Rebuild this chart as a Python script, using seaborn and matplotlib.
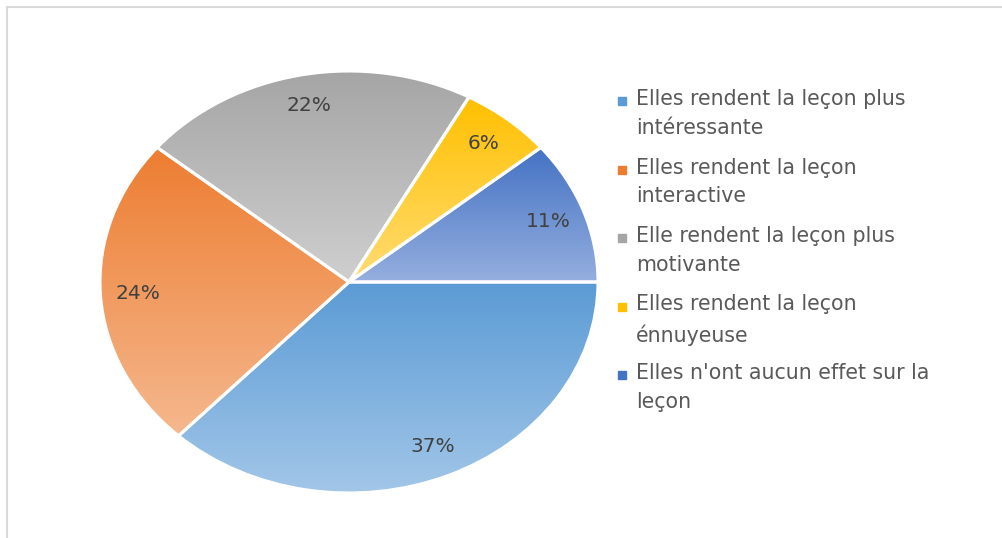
import numpy as np
import seaborn as sns
import matplotlib.pyplot as plt
from matplotlib.patches import Rectangle
from matplotlib.colors import LinearSegmentedColormap

sns.set_theme(style="white")
plt.rcParams["font.family"] = ["DejaVu Sans"]

# data
labels = [
    "Elles rendent la leçon plus\nintéressante",
    "Elles rendent la leçon\ninteractive",
    "Elle rendent la leçon plus\nmotivante",
    "Elles rendent la leçon\nénnuyeuse",
    "Elles n'ont aucun effet sur la\nleçon",
]
shares = [37, 24, 22, 6, 11]
base_colors = ["#5B9BD5", "#ED7D31", "#A5A5A5", "#FFC000", "#4472C4"]
light_colors = ["#A2C6E8", "#F5B88E", "#CFCFCF", "#FFDC73", "#95AFDF"]

palette = sns.color_palette(base_colors)

fig = plt.figure(figsize=(10.02, 5.38), dpi=100, facecolor="white")
W, H = 1002, 538

# outer chart frame
fig.patches.append(Rectangle((7 / W, -0.1), 1.2, 1.1 - 7 / H, transform=fig.transFigure,
                             fill=False, edgecolor="#D9D9D9", linewidth=1.5))

ax = fig.add_axes([100 / W, (H - 493) / H, 498 / W, 422 / H])
wedges, texts, autotexts = ax.pie(
    shares, colors=palette, startangle=0, counterclock=False,
    autopct="%d%%", pctdistance=0.85,
    wedgeprops=dict(edgecolor="white", linewidth=2.2),
    textprops=dict(color="#404040", fontsize=14.5),
)
ax.set_aspect("auto")

# vertical gradient in each slice
for w, c0, c1 in zip(wedges, base_colors, light_colors):
    bb = w.get_path().get_extents()
    cmap = LinearSegmentedColormap.from_list("g", [c1, c0])
    grad = np.linspace(0, 1, 256).reshape(-1, 1)
    im = ax.imshow(grad, cmap=cmap, origin="lower", aspect="auto",
                   extent=[bb.x0, bb.x1, bb.y0, bb.y1], zorder=1)
    im.set_clip_path(w)
    w.set_facecolor("none")
    w.set_zorder(2)
for t in autotexts:
    t.set_zorder(3)
ax.set_xlim(-1, 1); ax.set_ylim(-1, 1)
ax.axis("off")

# legend
y = 101
for lab, col in zip(labels, base_colors):
    fig.patches.append(Rectangle((618 / W, 1 - (y + 4) / H), 8 / W, 8 / H,
                                 transform=fig.transFigure, color=col))
    fig.text(636 / W, 1 - (y - 12) / H, lab, va="top", ha="left", fontsize=14.8,
             color="#595959", linespacing=1.55)
    y += 68.5

fig.savefig("out.png", dpi=100, facecolor="white")
